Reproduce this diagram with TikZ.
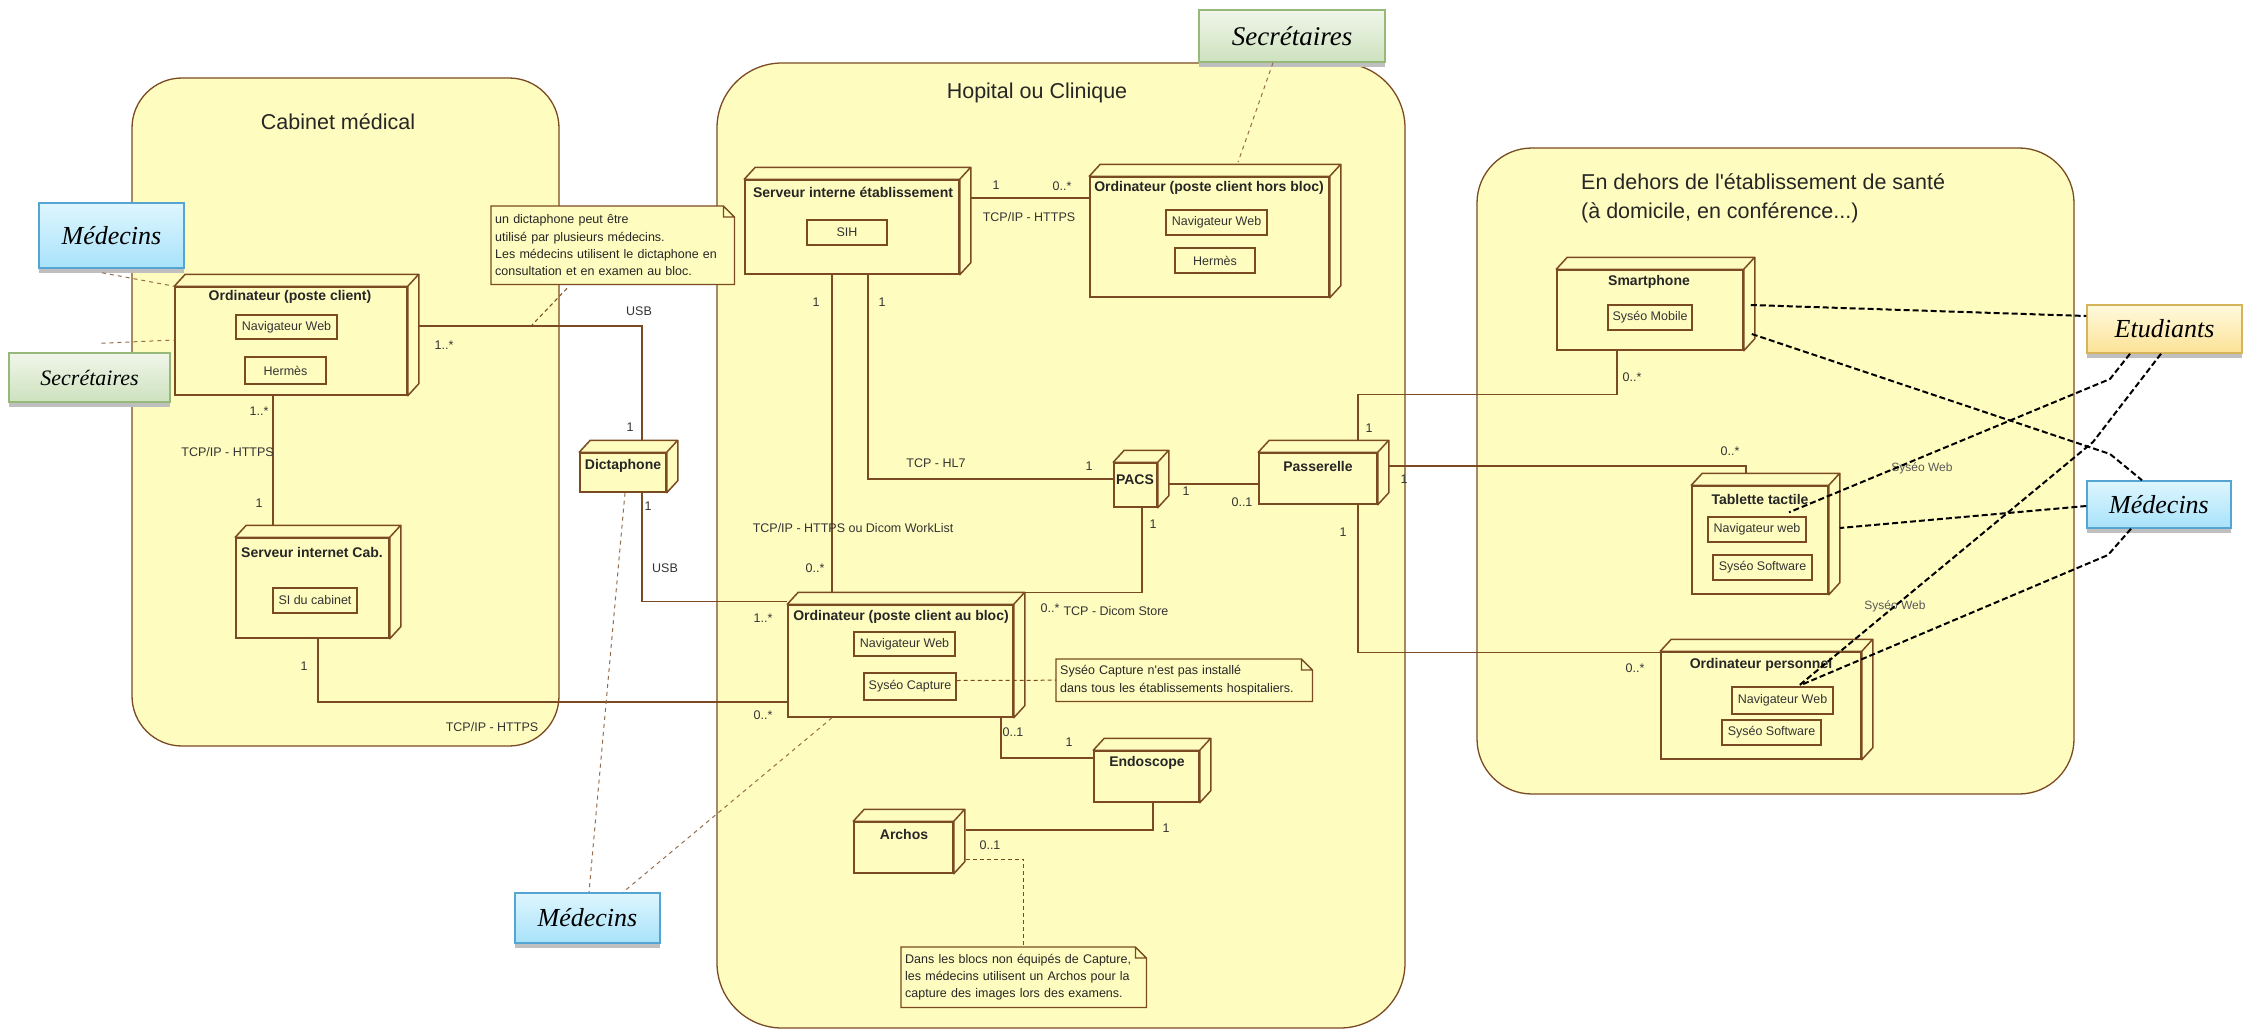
\documentclass[tikz,border=0pt]{standalone}
\usepackage{fontspec}
\setmainfont{Liberation Sans}
\newfontfamily\actorfont{Liberation Serif}
\usetikzlibrary{shadows}
\definecolor{zonefill}{RGB}{255,252,191}
\definecolor{umlbrown}{RGB}{122,74,34}
\definecolor{medtop}{RGB}{222,246,254}
\definecolor{medbot}{RGB}{168,226,250}
\definecolor{medline}{RGB}{84,164,212}
\definecolor{sectop}{RGB}{240,246,234}
\definecolor{secbot}{RGB}{205,226,190}
\definecolor{secline}{RGB}{150,184,120}
\definecolor{etutop}{RGB}{255,250,222}
\definecolor{etubot}{RGB}{252,226,150}
\definecolor{etuline}{RGB}{214,180,90}
\tikzset{
        zone/.style={draw=umlbrown, fill=zonefill, line width=1.3pt},
        zonetitle/.style={font=\fontsize{21.5}{26}\selectfont, text=black!85, inner sep=0pt},
        device/.style={draw=umlbrown, fill=zonefill, line width=1.5pt, inner sep=0pt},
        devtitle/.style={font=\fontsize{14}{16}\selectfont\bfseries, text=black!85, inner sep=0pt},
        artifact/.style={draw=umlbrown, fill=zonefill, line width=1.3pt, inner sep=0pt, font=\fontsize{12.5}{14}\selectfont, text=black!80},
        umlnote/.style={fill=zonefill, anchor=north west, inner xsep=4pt, inner ysep=0pt, align=left, font=\fontsize{12.5}{17.3}\selectfont, text=black!85},
        noteline/.style={draw=umlbrown, line width=1.3pt},
        link/.style={draw=umlbrown, line width=1.2pt},
        mult/.style={font=\fontsize{12.5}{14}\selectfont, text=black!80, inner sep=0pt},
        webmult/.style={font=\fontsize{12}{14}\selectfont, text=black!65, inner sep=0pt},
        notelink/.style={draw=umlbrown, line width=1pt, dash pattern=on 4pt off 3pt},
        actlink/.style={draw=umlbrown!80, line width=1pt, dash pattern=on 4pt off 4pt},
        actdash/.style={draw=black, line width=2pt, dash pattern=on 6pt off 3pt},
        umlactor/.style={line width=1.5pt, inner sep=0pt, font=\actorfont\itshape\fontsize{26}{30}\selectfont, drop shadow={shadow xshift=0pt, shadow yshift=-5pt, fill=black!25, opacity=1}},
        medecin/.style={umlactor, draw=medline, top color=medtop, bottom color=medbot},
        secretaire/.style={umlactor, draw=secline, top color=sectop, bottom color=secbot},
        etudiant/.style={umlactor, draw=etuline, top color=etutop, bottom color=etubot}
}
\begin{document}
\begin{tikzpicture}[x=1pt,y=-1pt]
        \fill[white] (0,0) rectangle (2246,1030);
        \useasboundingbox (0,0) rectangle (2246,1030);
        \draw[zone, rounded corners=50pt] (132,78) rectangle (559,746);
        \draw[zone, rounded corners=65pt] (717,63) rectangle (1405,1028);
        \draw[zone, rounded corners=55pt] (1477,148) rectangle (2074,794);
        \node[zonetitle] (cab-t) at (338,122) {Cabinet médical};
        \node[zonetitle] (hop-t) at (1037,93) {Hopital ou Clinique};
        \node[zonetitle, anchor=west] (ext-t1) at (1581,182) {En dehors de l\textquotesingle établissement de santé};
        \node[zonetitle, anchor=west] (ext-t2) at (1581,213) {(à domicile, en conférence...)};

        \node[device, minimum width=232pt, minimum height=108pt] (ordipc) at (291,341) {};
        \node[device, minimum width=153pt, minimum height=100pt] (servcab) at (312.5,588) {};
        \node[device, minimum width=86pt, minimum height=39pt] (dicta) at (623,472.5) {};
        \node[device, minimum width=214pt, minimum height=94pt] (servint) at (852,227) {};
        \node[device, minimum width=239pt, minimum height=120pt] (ordihb) at (1209.5,237) {};
        \node[device, minimum width=43pt, minimum height=44pt] (pacs) at (1135.5,485) {};
        \node[device, minimum width=118pt, minimum height=51pt] (passer) at (1318,478.5) {};
        \node[device, minimum width=225pt, minimum height=112pt] (ordibloc) at (900.5,661) {};
        \node[device, minimum width=105pt, minimum height=51pt] (endo) at (1146.5,776.5) {};
        \node[device, minimum width=99pt, minimum height=51pt] (archos) at (903.5,847.5) {};
        \node[device, minimum width=186pt, minimum height=80pt] (smart) at (1650,310) {};
        \node[device, minimum width=136pt, minimum height=108pt] (tab) at (1760,540) {};
        \node[device, minimum width=200pt, minimum height=107pt] (ordiperso) at (1761,705.5) {};
        \foreach \n in {ordipc,servcab,dicta,servint,ordihb,pacs,passer,ordibloc,endo,archos,smart,tab,ordiperso}
                \draw[device, line join=round] (\n.north west) -- ++(11,-12) -- ([shift={(11pt,12pt)}]\n.north east) -- ([shift={(11pt,12pt)}]\n.south east) -- (\n.south east) -- (\n.north east) -- cycle (\n.north east) -- ++(11,-12);

        \node[devtitle] (ordipc-t) at (290,297) {Ordinateur (poste client)};
        \node[devtitle] (servcab-t) at (312,552) {Serveur internet Cab.};
        \node[devtitle] (dicta-t) at (623,466) {Dictaphone};
        \node[devtitle] (servint-t) at (853,192) {Serveur interne établissement};
        \node[devtitle] (ordihb-t) at (1209,188) {Ordinateur (poste client hors bloc)};
        \node[devtitle] (pacs-t) at (1135,480) {PACS};
        \node[devtitle] (passer-t) at (1318,466) {Passerelle};
        \node[devtitle] (ordibloc-t) at (901,617) {Ordinateur (poste client au bloc)};
        \node[devtitle] (endo-t) at (1147,763) {Endoscope};
        \node[devtitle] (archos-t) at (904,834) {Archos};
        \node[devtitle] (smart-t) at (1649,282) {Smartphone};
        \node[devtitle] (tab-t) at (1760,499) {Tablette tactile};
        \node[devtitle] (ordiperso-t) at (1761,665) {Ordinateur personnel};

        \node[artifact, minimum width=101pt, minimum height=24pt] (ordipc-nav) at (286.5,327) {Navigateur Web};
        \node[artifact, minimum width=81pt, minimum height=27pt] (ordipc-her) at (285.5,370.5) {Hermès};
        \node[artifact, minimum width=84pt, minimum height=25pt] (servcab-si) at (315,600.5) {SI du cabinet};
        \node[artifact, minimum width=80pt, minimum height=25pt] (servint-sih) at (847,232.5) {SIH};
        \node[artifact, minimum width=101pt, minimum height=25pt] (ordihb-nav) at (1216.5,222.5) {Navigateur Web};
        \node[artifact, minimum width=80pt, minimum height=25pt] (ordihb-her) at (1215,260.5) {Hermès};
        \node[artifact, minimum width=101pt, minimum height=24pt] (ordibloc-nav) at (904.5,644) {Navigateur Web};
        \node[artifact, minimum width=92pt, minimum height=27pt] (ordibloc-cap) at (910,686.5) {Syséo Capture};
        \node[artifact, minimum width=84pt, minimum height=25pt] (smart-mob) at (1650,317.5) {Syséo Mobile};
        \node[artifact, minimum width=98pt, minimum height=25pt] (tab-nav) at (1757,529.5) {Navigateur web};
        \node[artifact, minimum width=99pt, minimum height=25pt] (tab-soft) at (1762.5,567.5) {Syséo Software};
        \node[artifact, minimum width=101pt, minimum height=27pt] (perso-nav) at (1782.5,700.5) {Navigateur Web};
        \node[artifact, minimum width=99pt, minimum height=25pt] (perso-soft) at (1771.5,732.5) {Syséo Software};

        \node[umlnote, text width=235pt, minimum height=78pt] (dictnote) at (491,206) {un dictaphone peut être\\utilisé par plusieurs médecins.\\Les médecins utilisent le dictaphone en\\consultation et en examen au bloc.};
        \node[umlnote, text width=248pt, minimum height=42pt] (capnote) at (1056,659) {Syséo Capture n\textquotesingle est pas installé\\dans tous les établissements hospitaliers.};
        \node[umlnote, text width=237pt, minimum height=60pt] (archnote) at (901,947) {Dans les blocs non équipés de Capture,\\les médecins utilisent un Archos pour la\\capture des images lors des examens.};
        \foreach \n in {dictnote,capnote,archnote}
                \draw[noteline] (\n.north west) -- ([xshift=-11pt]\n.north east) -- ([yshift=-11pt]\n.north east) -- (\n.south east) -- (\n.south west) -- cycle ([xshift=-11pt]\n.north east) -- ([xshift=-11pt,yshift=-11pt]\n.north east) -- ([yshift=-11pt]\n.north east);

        \node[medecin, minimum width=145pt, minimum height=65pt] (med1) at (111.5,235.5) {Médecins};
        \node[secretaire, minimum width=161pt, minimum height=49pt, font=\actorfont\itshape\fontsize{22}{26}\selectfont] (sec1) at (89.5,377.5) {Secrétaires};
        \node[secretaire, minimum width=186pt, minimum height=52pt, font=\actorfont\itshape\fontsize{27}{31}\selectfont] (sec2) at (1292,36) {Secrétaires};
        \node[medecin, minimum width=145pt, minimum height=50pt] (med3) at (587.5,918) {Médecins};
        \node[etudiant, minimum width=155pt, minimum height=48pt] (etud) at (2164.5,329) {Etudiants};
        \node[medecin, minimum width=144pt, minimum height=47pt] (med2) at (2159,504.5) {Médecins};

        \draw[link] ([xshift=11pt,yshift=15pt]ordipc.east) -| ([xshift=19pt,yshift=11pt]dicta.north);
        \draw[link] ([xshift=-18pt]ordipc.south) -- ([xshift=-39.5pt,yshift=11pt]servcab.north);
        \draw[link] ([xshift=5.5pt]servcab.south) |- ([yshift=-41pt]ordibloc.west);
        \draw[link] ([xshift=19pt]dicta.south) |- ([yshift=3pt]ordibloc.north west);
        \draw[link] ([xshift=-20pt]servint.south) -- ([xshift=-68.5pt,yshift=12pt]ordibloc.north);
        \draw[link] ([xshift=16pt]servint.south) |- ([yshift=6pt]pacs.west);
        \draw[link] ([xshift=11pt,yshift=29pt]servint.east) -- ([yshift=39pt]ordihb.west);
        \draw[link] ([xshift=11pt,yshift=1pt]pacs.east) -- ([yshift=-5.5pt]passer.west);
        \draw[link] ([xshift=6.5pt]pacs.south) |- ([xshift=11pt,yshift=12pt]ordibloc.north east);
        \draw[link] ([xshift=100.5pt]ordibloc.south) |- ([yshift=18.5pt]endo.west);
        \draw[link] ([xshift=6.5pt]endo.south) |- ([xshift=12pt,yshift=17.5pt]archos.east);
        \draw[link] ([xshift=40pt,yshift=11pt]passer.north) |- ([xshift=-33pt,yshift=-44pt]smart.south) -- ([xshift=-33pt]smart.south);
        \draw[link] ([xshift=11pt,yshift=12.5pt]passer.east) -| ([xshift=-14pt,yshift=11pt]tab.north);
        \draw[link] ([xshift=40pt]passer.south) |- ([yshift=-1pt]ordiperso.north west);

        \coordinate (usbk) at (532,325);
        \draw[notelink] ([xshift=76pt,yshift=-4pt]dictnote.south west) -- (usbk);
        \draw[notelink] ([yshift=6pt]ordibloc-cap.east) -- (capnote.west);
        \draw[notelink] ([xshift=12pt,yshift=-11.5pt]archos.east) -| (archnote.north);

        \draw[actlink] ([xshift=-9.5pt,yshift=-4pt]med1.south) -- (ordipc.north west);
        \draw[actlink] ([xshift=12pt,yshift=9pt]sec1.north) -- ([yshift=1pt]ordipc.west);
        \draw[actlink] ([xshift=-19pt]sec2.south) -- ([xshift=28.5pt,yshift=14pt]ordihb.north);
        \draw[actlink] ([xshift=2pt]dicta.south) -- ([xshift=1.5pt]med3.north);
        \draw[actlink] ([xshift=-68.5pt]ordibloc.south) -- ([xshift=35.5pt]med3.north);

        \node[mult] (m-pc-dic) at (444,345) {1..*};
        \node[mult] (m-usb1) at (639,311) {USB};
        \node[mult] (m-dic-a) at (630,427) {1};
        \node[mult] (m-pc-cab) at (259,411) {1..*};
        \node[mult, anchor=east] (m-https1) at (274,452) {TCP/IP - HTTPS};
        \node[mult] (m-cab-a) at (259,503) {1};
        \node[mult] (m-cab-b) at (304,666) {1};
        \node[mult] (m-https2) at (492,727) {TCP/IP - HTTPS};
        \node[mult] (m-sih-a) at (996,185) {1};
        \node[mult] (m-hb-a) at (1062,186) {0..*};
        \node[mult] (m-https3) at (1029,217) {TCP/IP - HTTPS};
        \node[mult] (m-sih-b) at (816,302) {1};
        \node[mult] (m-sih-c) at (882,302) {1};
        \node[mult] (m-hl7) at (936,463) {TCP - HL7};
        \node[mult] (m-pacs-a) at (1089,466) {1};
        \node[mult] (m-wl) at (853,528) {TCP/IP - HTTPS ou Dicom WorkList};
        \node[mult] (m-bloc-a) at (815,568) {0..*};
        \node[mult] (m-dic-b) at (648,506) {1};
        \node[mult] (m-usb2) at (665,568) {USB};
        \node[mult] (m-bloc-b) at (763,618) {1..*};
        \node[mult] (m-bloc-c) at (763,715) {0..*};
        \node[mult] (m-pacs-b) at (1186,491) {1};
        \node[mult] (m-pas-a) at (1242,502) {0..1};
        \node[mult] (m-pacs-c) at (1153,524) {1};
        \node[mult] (m-bloc-d) at (1050,608) {0..*};
        \node[mult] (m-store) at (1116,611) {TCP - Dicom Store};
        \node[mult] (m-bloc-e) at (1013,732) {0..1};
        \node[mult] (m-endo-a) at (1069,742) {1};
        \node[mult] (m-endo-b) at (1166,828) {1};
        \node[mult] (m-arch) at (990,845) {0..1};
        \node[mult] (m-smart) at (1632,377) {0..*};
        \node[mult] (m-pas-b) at (1369,428) {1};
        \node[mult] (m-pas-c) at (1404,479) {1};
        \node[mult] (m-tab) at (1730,451) {0..*};
        \node[mult] (m-pas-d) at (1343,532) {1};
        \node[mult] (m-perso) at (1635,668) {0..*};
        \node[webmult] (m-web1) at (1922,468) {Syséo Web};
        \node[webmult] (m-web2) at (1895,606) {Syséo Web};

        \coordinate (k1) at (2110,454);
        \coordinate (k2) at (2110,379);
        \coordinate (k3) at (2093,442);
        \coordinate (k4) at (2108,555);
        \draw[actdash] ([xshift=7pt,yshift=5pt]smart.east) -- ([yshift=13pt]etud.west);
        \draw[actdash] ([xshift=8pt,yshift=-24pt]smart.east) -- (k1) -- ([xshift=-17pt]med2.north);
        \draw[actdash] ([xshift=-34.5pt]etud.south) -- (k2) -- ([xshift=32pt,yshift=4pt]tab-nav.north);
        \draw[actdash] ([xshift=-3.5pt]etud.south) -- (k3) -- ([xshift=15.5pt]perso-nav.north);
        \draw[actdash] ([yshift=-1.5pt]med2.west) -- ([xshift=11pt,yshift=12pt]tab.east);
        \draw[actdash] ([xshift=-28pt]med2.south) -- (k4) -- ([xshift=17.5pt,yshift=1pt]perso-nav.north);
\end{tikzpicture}
\end{document}
